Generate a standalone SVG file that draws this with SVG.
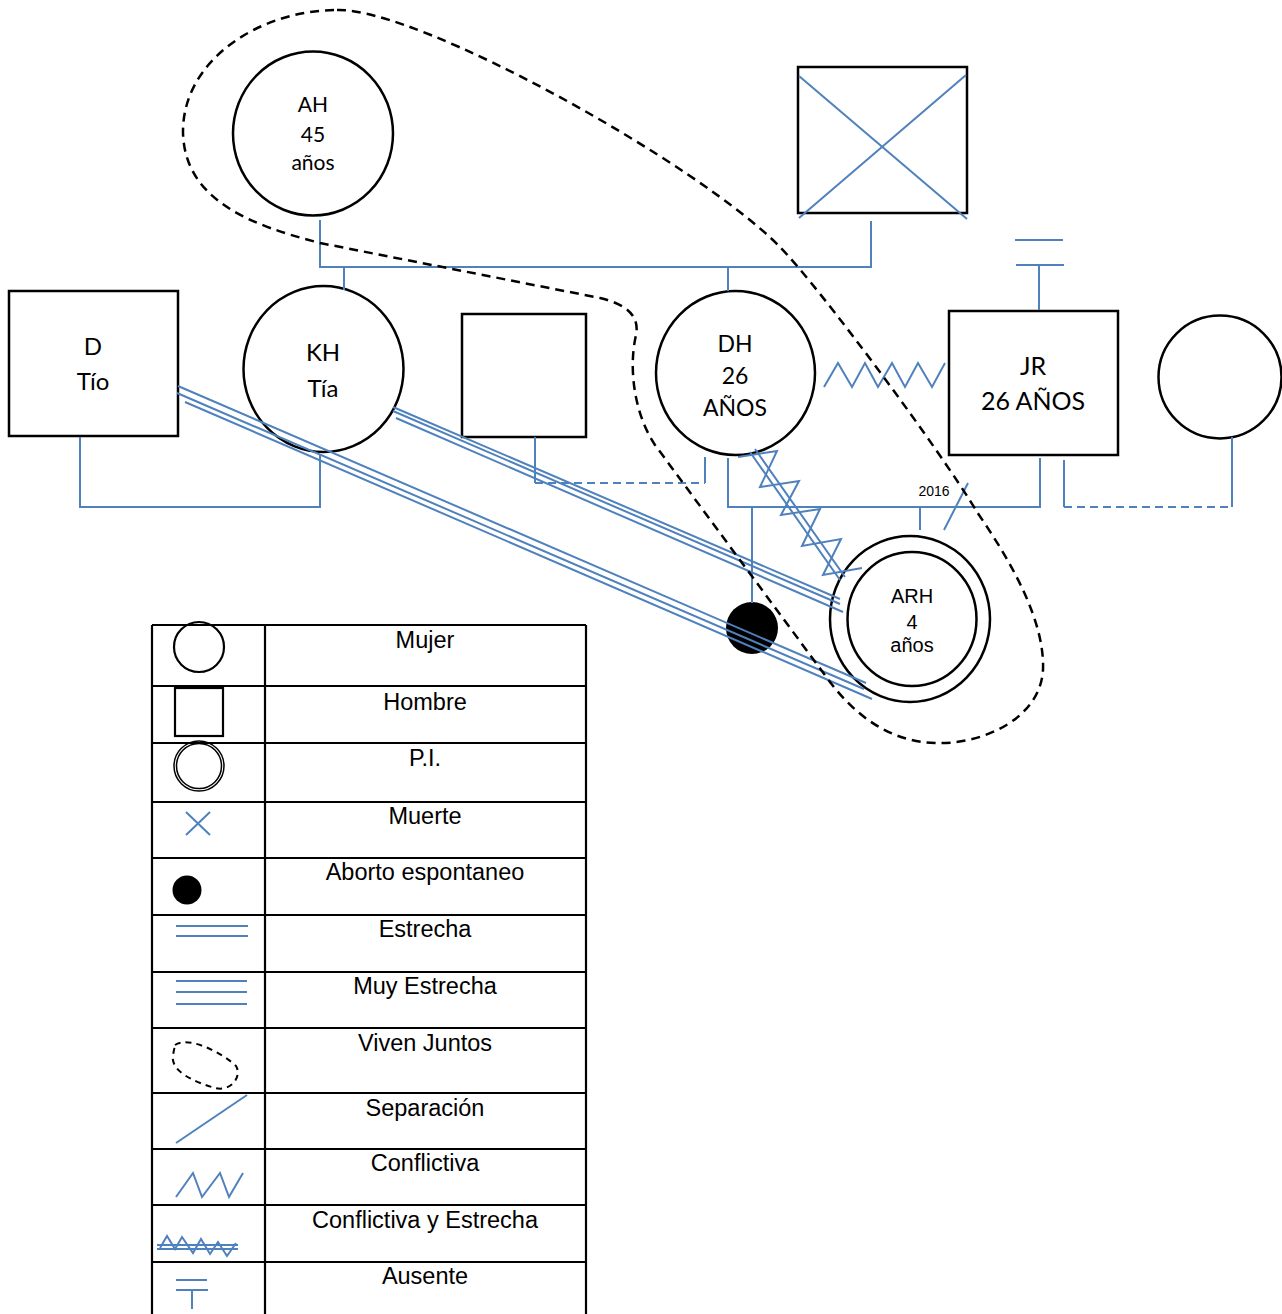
<svg xmlns="http://www.w3.org/2000/svg" width="1282" height="1314" viewBox="0 0 1282 1314">
<style>
.node{fill:#fff;stroke:#000;stroke-width:2.5}
.b{stroke:#4F81BD;stroke-width:2;fill:none}
.dsh{stroke-dasharray:8 5}
.loop{fill:none;stroke:#000;stroke-width:2.5;stroke-dasharray:9 6}
.t{font-family:Lato,"Liberation Sans",sans-serif;text-anchor:middle;fill:#000}
.a{font-family:"Liberation Sans",Arial,sans-serif;text-anchor:middle;fill:#000}
.grid{stroke:#000;stroke-width:2.2;fill:none}
</style>
<rect width="1282" height="1314" fill="#fff"/>

<g id="AH">
<ellipse class="node" cx="313" cy="133.5" rx="80" ry="82"/>
<text class="t" x="313" y="112" font-size="21">AH</text>
<text class="t" x="313" y="142" font-size="21">45</text>
<text class="t" x="313" y="170" font-size="21">años</text>
</g>
<g id="deceased-grandfather">
<rect class="node" x="798" y="67" width="169" height="146"/>
<line class="b" x1="799" y1="76" x2="967" y2="219"/>
<line class="b" x1="799" y1="218" x2="966" y2="75"/>
</g>
<g id="D">
<rect class="node" x="9" y="291" width="169" height="145"/>
<text class="t" x="93" y="355" font-size="24">D</text>
<text class="t" x="93" y="390" font-size="24">Tío</text>
</g>
<g id="KH">
<ellipse class="node" cx="323.5" cy="369" rx="80" ry="83"/>
<text class="t" x="323" y="361" font-size="24">KH</text>
<text class="t" x="323" y="397" font-size="24">Tía</text>
</g>
<g id="KH-partner">
<rect class="node" x="462" y="314" width="124" height="123"/>
</g>
<g id="DH">
<ellipse class="node" cx="735.5" cy="373" rx="79.5" ry="82"/>
<text class="t" x="735" y="352" font-size="23">DH</text>
<text class="t" x="735" y="384" font-size="23">26</text>
<text class="t" x="735" y="416" font-size="23">AÑOS</text>
</g>
<g id="JR">
<rect class="node" x="949" y="311" width="169" height="144"/>
<text class="t" x="1033" y="375" font-size="25">JR</text>
<text class="t" x="1033" y="410" font-size="25">26 AÑOS</text>
</g>
<g id="JR-partner">
<circle class="node" cx="1220" cy="377" r="61.5"/>
</g>
<g id="ARH">
<ellipse class="node" cx="910" cy="619" rx="80" ry="83"/>
<ellipse class="node" cx="912" cy="619" rx="64.5" ry="67"/>
<text class="a" x="912" y="603" font-size="20">ARH</text>
<text class="a" x="912" y="629" font-size="20">4</text>
<text class="a" x="912" y="652" font-size="20">años</text>
</g>
<g id="miscarriage">
<circle cx="752" cy="628" r="26" fill="#000"/>
</g>

<g id="connectors">
<path class="b" d="M320,220 V267 H871 V221"/>
<path class="b" d="M344,267 V290"/>
<path class="b" d="M728,267 V291"/>
<path class="b" d="M80,437 V507 H320 V455"/>
<path class="b" d="M535,437 V483 M705,457 V483"/>
<path class="b dsh" d="M535,483 H705"/>
<path class="b" d="M728,458 V507 H1040 V458"/>
<path class="b" d="M920,507 V530"/>
<path class="b" d="M944,530 L968,483"/>
<text class="a" x="934" y="496" font-size="14">2016</text>
<path class="b" d="M752,507 V603"/>
<path class="b" d="M1064,460 V507 M1232,507 V437"/>
<path class="b dsh" d="M1064,507 H1232"/>
<path class="b" d="M1015,240 H1063 M1016,265 H1064 M1039,265 V310"/>
<polyline class="b" points="824,387 838,363 852,387 865,363 878,387 892,363 905,387 918,363 932,387 945,363"/>
<path class="b" d="M178,386 L866,683 M177,393 L864,689 M185,402 L872,699"/>
<path class="b" d="M393,407 L840,599 M393,411 L840,604 M396,418 L843,612"/>
<path class="b" d="M750,452 L840,580 M755,449 L845,577"/>
<polyline class="b" points="738,457 777,451 760,487 799,481 781,515 820,509 802,546 841,539 823,575 862,568"/>
<path class="loop" d="M337,10 C420,8 700,165 780,247 C820,288 940,450 977,512 C1010,560 1045,620 1043,670 C1040,720 980,745 935,743 C890,742 855,715 830,682 L655,445 C635,415 628,370 636,335 C640,315 625,304 600,298 L320,243 C250,225 185,200 183,133 C182,60 260,10 337,10 Z"/>
</g>

<g id="legend">
<path class="grid" d="M152,625 H586 M152,686 H586 M152,743 H586 M152,802 H586 M152,858 H586 M152,915 H586 M152,972 H586 M152,1028 H586 M152,1093 H586 M152,1149 H586 M152,1205 H586 M152,1262 H586 M152,625 V1314 M265,625 V1314 M586,625 V1314"/>
<circle cx="199" cy="647" r="25" fill="none" stroke="#000" stroke-width="2.2"/>
<rect x="175" y="688" width="48" height="48" fill="none" stroke="#000" stroke-width="2.2"/>
<circle cx="199" cy="766" r="25" fill="none" stroke="#000" stroke-width="1.5"/>
<circle cx="199" cy="766" r="22.5" fill="none" stroke="#000" stroke-width="1.5"/>
<path class="b" d="M186,812 L210,835 M186,835 L210,812"/>
<circle cx="187" cy="890" r="14.5" fill="#000"/>
<path class="b" d="M176,926 H248 M176,936 H248"/>
<path class="b" d="M176,981 H247 M176,992 H247 M176,1004 H247"/>
<path d="M175,1045 C190,1035 225,1055 236,1066 C242,1076 232,1092 215,1088 C195,1082 170,1072 173,1055 Z" fill="none" stroke="#000" stroke-width="2" stroke-dasharray="6 5"/>
<path class="b" d="M176,1143 L247,1095"/>
<polyline class="b" points="176,1197 193,1173 202,1197 220,1173 229,1197 243,1173"/>
<path class="b" d="M157,1245 H238 M157,1249 H238"/>
<polyline class="b" points="160,1248 167,1236 175,1249 182,1237 193,1253 201,1239 210,1254 218,1242 227,1256 236,1243"/>
<path class="b" d="M176,1280 H207 M176,1290 H208 M192,1290 V1309"/>
<text class="a" x="425" y="648" font-size="23.5">Mujer</text>
<text class="a" x="425" y="710" font-size="23.5">Hombre</text>
<text class="a" x="425" y="766" font-size="23.5">P.I.</text>
<text class="a" x="425" y="824" font-size="23.5">Muerte</text>
<text class="a" x="425" y="880" font-size="23.5">Aborto espontaneo</text>
<text class="a" x="425" y="937" font-size="23.5">Estrecha</text>
<text class="a" x="425" y="994" font-size="23.5">Muy Estrecha</text>
<text class="a" x="425" y="1051" font-size="23.5">Viven Juntos</text>
<text class="a" x="425" y="1116" font-size="23.5">Separación</text>
<text class="a" x="425" y="1171" font-size="23.5">Conflictiva</text>
<text class="a" x="425" y="1228" font-size="23.5">Conflictiva y Estrecha</text>
<text class="a" x="425" y="1284" font-size="23.5">Ausente</text>
</g>
</svg>
